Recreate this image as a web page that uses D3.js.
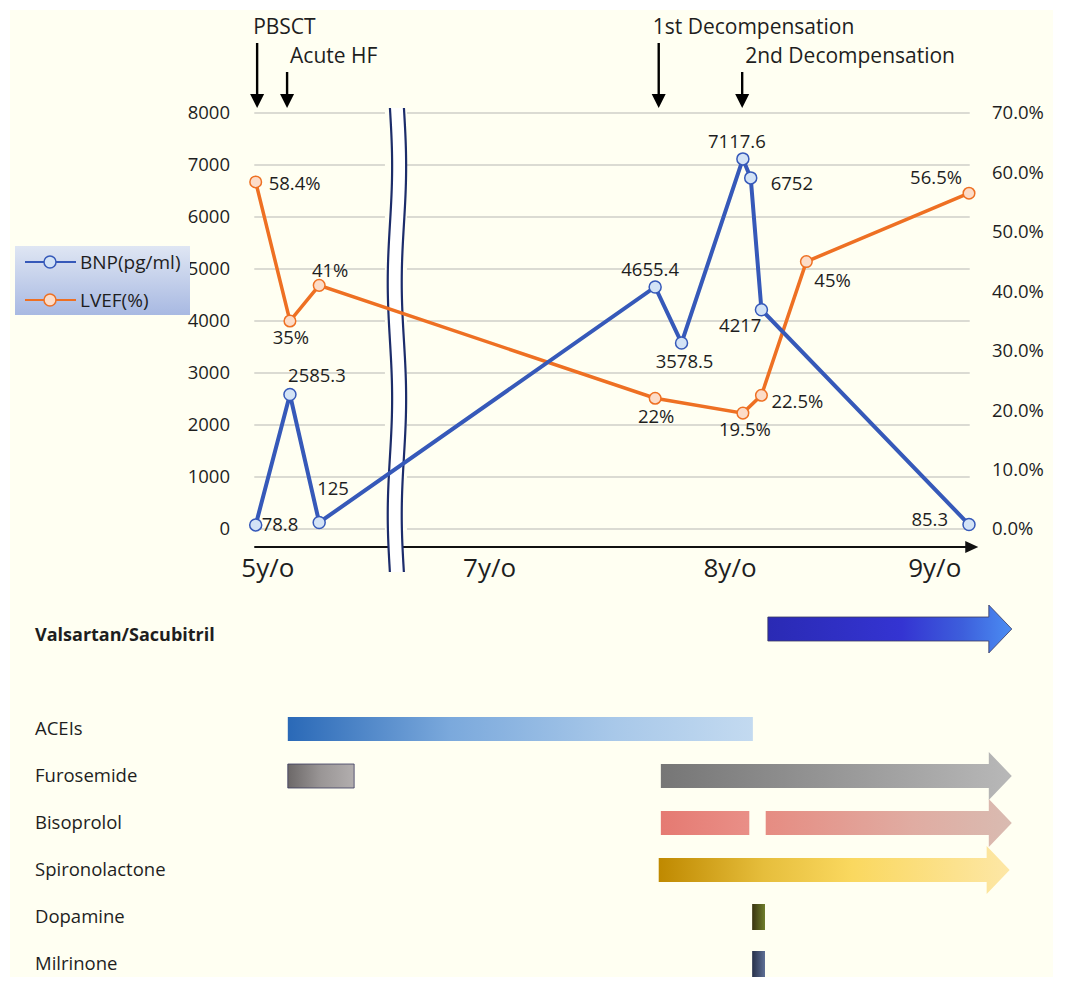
<!DOCTYPE html>
<html>
<head>
<meta charset="utf-8">
<title>BNP and LVEF follow-up</title>
<style>
  body { margin: 0; padding: 0; background: #fff; }
  svg text { font-family: "Open Sans", sans-serif; fill: #1e1e1e; }
</style>
</head>
<body>
<div id="chart"></div>
<script src="https://d3js.org/d3.v7.min.js"></script>
<script>
// timeline position: 0 = PBSCT, 100 = last visit (axis is broken after the acute phase)
var bnpTime   = [0, 4.8, 8.9, 56.0, 59.7, 68.3, 69.4, 70.9, 100];
var bnpValues = [78.8, 2585.3, 125, 4655.4, 3578.5, 7117.6, 6752, 4217, 85.3];
var bnpLabels = ["78.8", "2585.3", "125", "4655.4", "3578.5", "7117.6", "6752", "4217", "85.3"];

var lvefTime   = [0, 4.8, 8.9, 56.0, 68.3, 70.9, 77.2, 100];
var lvefValues = [58.4, 35, 41, 22, 19.5, 22.5, 45, 56.5];
var lvefLabels = ["58.4%", "35%", "41%", "22%", "19.5%", "22.5%", "45%", "56.5%"];

var bnpTicks  = [0, 1000, 2000, 3000, 4000, 5000, 6000, 7000, 8000];
var lvefTicks = [0, 10, 20, 30, 40, 50, 60, 70];

var ageLabels = ["5y/o", "7y/o", "8y/o", "9y/o"];
var ageTime   = [1.7, 32.8, 66.5, 95.2];

var eventNames = ["PBSCT", "Acute HF", "1st Decompensation", "2nd Decompensation"];
var eventTime  = [0.2, 4.4, 56.5, 68.2];

var breakTime = 19.8;

var drugNames = ["Valsartan/Sacubitril", "", "ACEIs", "Furosemide", "Bisoprolol", "Spironolactone", "Dopamine", "Milrinone"];
// [drug, start, end, still ongoing]
var drugCourses = [
  ["Valsartan/Sacubitril", 71.8, 106, true],
  ["ACEIs", 4.5, 69.7, false],
  ["Furosemide", 4.5, 13.8, false],
  ["Furosemide", 56.8, 106, true],
  ["Bisoprolol", 56.8, 69.2, false],
  ["Bisoprolol", 71.5, 106, true],
  ["Spironolactone", 56.5, 105.7, true],
  ["Dopamine", 69.6, 71.4, false],
  ["Milrinone", 69.6, 71.4, false]
];

var width = 1084, height = 988;
var blue = "#3659b9", orange = "#ee7023";

var svg = d3.select("#chart").append("svg")
    .attr("width", width)
    .attr("height", height);

var defs = svg.append("defs");

svg.append("rect")
    .attr("x", 10).attr("y", 10)
    .attr("width", 1043).attr("height", 967)
    .attr("fill", "#fffff2");

var x = d3.scaleLinear().domain([0, 100]).range([255.7, 969]);
var yL = d3.scaleLinear().domain([0, 8000]).range([529, 113]);
var yR = d3.scaleLinear().domain([0, 70]).range([529, 113]);

var breakX = x(breakTime);

// gridlines, cut at the break
var grid = svg.append("g");
bnpTicks.forEach(function(t) {
  [[x(-0.2), breakX - 12], [breakX + 10, x(100.1)]].forEach(function(seg) {
    grid.append("line")
        .attr("x1", seg[0]).attr("x2", seg[1])
        .attr("y1", yL(t)).attr("y2", yL(t))
        .attr("stroke", "#cfcfc8")
        .attr("stroke-width", 1.3);
  });
});

// axes
var left = svg.append("g")
    .attr("transform", "translate(234,0)")
    .call(d3.axisLeft(yL).tickValues(bnpTicks).tickSize(0).tickPadding(4).tickFormat(d3.format("d")));
left.select(".domain").remove();
left.selectAll("text").style("font-size", "18.5px").attr("fill", "#333");

var right = svg.append("g")
    .attr("transform", "translate(988,0)")
    .call(d3.axisRight(yR).tickValues(lvefTicks).tickSize(0).tickPadding(4)
      .tickFormat(function(d) { return d.toFixed(1) + "%"; }));
right.select(".domain").remove();
right.selectAll("text").style("font-size", "18.5px").attr("fill", "#333");

// x axis with arrow
var axisY = 547;
svg.append("line")
    .attr("x1", x(-0.2)).attr("x2", x(100.4))
    .attr("y1", axisY).attr("y2", axisY)
    .attr("stroke", "#111").attr("stroke-width", 2);
svg.append("path")
    .attr("d", "M" + x(101.3) + "," + axisY + "l-13,-6l0,12z")
    .attr("fill", "#111");

svg.append("g").selectAll("text")
    .data(ageLabels)
    .join("text")
    .attr("x", function(d, i) { return x(ageTime[i]); })
    .attr("y", 577)
    .attr("text-anchor", "middle")
    .style("font-size", "26px")
    .attr("fill", "#111")
    .text(function(d) { return d; });

// axis break: two wavy lines with white between
var wave = d3.range(108, 574, 4);
function waveX(y, off) {
  return breakX + off + 2.2 * Math.sin((y - 108) / 465 * Math.PI * 4);
}
var bandPts = wave.map(function(y) { return [waveX(y, -7), y]; })
    .concat(wave.slice().reverse().map(function(y) { return [waveX(y, 7), y]; }));
svg.append("path")
    .attr("d", d3.line()(bandPts) + "Z")
    .attr("fill", "#fff");
[-7, 7].forEach(function(off) {
  svg.append("path")
      .attr("d", d3.line().curve(d3.curveBasis)(wave.map(function(y) { return [waveX(y, off), y]; })))
      .attr("fill", "none")
      .attr("stroke", "#1c2c6b")
      .attr("stroke-width", 2.2);
});

// series
var bnp = bnpTime.map(function(t, i) { return { t: t, v: bnpValues[i], label: bnpLabels[i] }; });
var lvef = lvefTime.map(function(t, i) { return { t: t, v: lvefValues[i], label: lvefLabels[i] }; });

svg.append("path")
    .datum(lvef)
    .attr("d", d3.line().x(function(d) { return x(d.t); }).y(function(d) { return yR(d.v); }))
    .attr("fill", "none").attr("stroke", orange).attr("stroke-width", 3.5);

svg.append("path")
    .datum(bnp)
    .attr("d", d3.line().x(function(d) { return x(d.t); }).y(function(d) { return yL(d.v); }))
    .attr("fill", "none").attr("stroke", blue).attr("stroke-width", 4);

svg.append("g").selectAll("circle")
    .data(lvef)
    .join("circle")
    .attr("cx", function(d) { return x(d.t); })
    .attr("cy", function(d) { return yR(d.v); })
    .attr("r", 5.8)
    .attr("fill", "#fcdcc8")
    .attr("stroke", orange).attr("stroke-width", 1.5);

svg.append("g").selectAll("circle")
    .data(bnp)
    .join("circle")
    .attr("cx", function(d) { return x(d.t); })
    .attr("cy", function(d) { return yL(d.v); })
    .attr("r", 6)
    .attr("fill", "#d3e3f6")
    .attr("stroke", blue).attr("stroke-width", 1.5);

// data labels: [dx, dy, anchor]
var bnpLabelPos = [[6, 6, "start"], [27, -13, "middle"], [-2, -28, "start"], [-5, -11, "middle"],
  [3, 25, "middle"], [-6, -11, "middle"], [20, 12, "start"], [0, 22, "end"], [-21, 1, "end"]];
var lvefLabelPos = [[13, 8, "start"], [1, 23, "middle"], [11, -8, "middle"], [1, 25, "middle"],
  [2, 23, "middle"], [10, 13, "start"], [8, 25, "start"], [-7, -9, "end"]];

svg.append("g").selectAll("text")
    .data(bnp)
    .join("text")
    .attr("x", function(d, i) { return x(d.t) + bnpLabelPos[i][0]; })
    .attr("y", function(d, i) { return yL(d.v) + bnpLabelPos[i][1]; })
    .attr("text-anchor", function(d, i) { return bnpLabelPos[i][2]; })
    .style("font-size", "18.5px")
    .text(function(d) { return d.label; });

svg.append("g").selectAll("text")
    .data(lvef)
    .join("text")
    .attr("x", function(d, i) { return x(d.t) + lvefLabelPos[i][0]; })
    .attr("y", function(d, i) { return yR(d.v) + lvefLabelPos[i][1]; })
    .attr("text-anchor", function(d, i) { return lvefLabelPos[i][2]; })
    .style("font-size", "18.5px")
    .text(function(d) { return d.label; });

// clinical events
var eventRowY = [34, 63];
var events = svg.append("g");
eventNames.forEach(function(name, i) {
  var ex = x(eventTime[i]);
  var row = eventRowY[i % 2];
  events.append("text")
      .attr("x", ex - (i == 0 ? 4 : (i == 2 ? 6 : -3)))
      .attr("y", row)
      .style("font-size", "21px")
      .attr("fill", "#000")
      .text(name);
  events.append("line")
      .attr("x1", ex).attr("x2", ex)
      .attr("y1", row + 9).attr("y2", 96)
      .attr("stroke", "#000").attr("stroke-width", 2.4);
  events.append("path")
      .attr("d", "M" + (ex - 7) + ",94L" + (ex + 7) + ",94L" + ex + ",108Z")
      .attr("fill", "#000");
});

// legend
var lg = defs.append("linearGradient").attr("id", "legendBg")
    .attr("x1", 0).attr("y1", 0).attr("x2", 0).attr("y2", 1);
lg.append("stop").attr("offset", 0).attr("stop-color", "#dfe6f3");
lg.append("stop").attr("offset", 1).attr("stop-color", "#a8b9e2");

var legend = svg.append("g");
legend.append("rect")
    .attr("x", 15).attr("y", 246)
    .attr("width", 175).attr("height", 69)
    .attr("fill", "url(#legendBg)");
[["BNP(pg/ml)", blue, "#d3e3f6", 262], ["LVEF(%)", orange, "#fcdcc8", 300]].forEach(function(e) {
  legend.append("line")
      .attr("x1", 25).attr("x2", 76)
      .attr("y1", e[3]).attr("y2", e[3])
      .attr("stroke", e[1]).attr("stroke-width", 2);
  legend.append("circle")
      .attr("cx", 50).attr("cy", e[3]).attr("r", 6)
      .attr("fill", e[2]).attr("stroke", e[1]).attr("stroke-width", 1.5);
  legend.append("text")
      .attr("x", 80).attr("y", e[3] + 7)
      .style("font-size", "19px")
      .attr("fill", "#333")
      .text(e[0]);
});

// medications
var rowY = d3.scalePoint().domain(drugNames).range([635, 964]);

svg.append("g").selectAll("text")
    .data(drugNames.filter(function(d) { return d != ""; }))
    .join("text")
    .attr("x", 35)
    .attr("y", function(d) { return rowY(d) + 6; })
    .style("font-size", function(d, i) { return i == 0 ? "18px" : "18.5px"; })
    .style("font-weight", function(d, i) { return i == 0 ? "bold" : "normal"; })
    .attr("fill", "#000")
    .text(function(d) { return d; });

var courseColors = [
  [[0, "#2a2ab4"], [0.55, "#3434d2"], [0.8, "#3d5fdc"], [1, "#4b8df2"]],
  [[0, "#2a69b7"], [0.35, "#7ba9dc"], [0.7, "#a8c8e9"], [1, "#c3daf0"]],
  [[0, "#6c6868"], [0.5, "#9a9696"], [1, "#b2aeae"]],
  [[0, "#767676"], [1, "#b8b8b8"]],
  [[0, "#e57a72"], [1, "#e98f87"]],
  [[0, "#e68c82"], [0.6, "#e0aca2"], [1, "#d9bbb1"]],
  [[0, "#bf8900"], [0.3, "#e6be3c"], [0.55, "#fad85f"], [1, "#fde7a6"]],
  [[0, "#393310"], [1, "#6f7e2c"]],
  [[0, "#27314a"], [1, "#5e6f95"]]
];

var courseG = svg.append("g");
drugCourses.forEach(function(c, i) {
  var gid = "course" + i;
  var grad = defs.append("linearGradient").attr("id", gid)
      .attr("x1", 0).attr("y1", 0).attr("x2", 1).attr("y2", 0);
  courseColors[i].forEach(function(s) {
    grad.append("stop").attr("offset", s[0]).attr("stop-color", s[1]);
  });
  var x0 = x(c[1]), x1 = x(c[2]);
  var cy = rowY(c[0]) + (i == 0 ? -6 : 0);
  var h = (i == 7 || i == 8) ? 26 : 24;
  var d;
  if (c[3]) {
    var hx = x1 - 23;
    d = "M" + x0 + "," + (cy - h / 2) + "L" + hx + "," + (cy - h / 2) + "L" + hx + "," + (cy - 24) +
        "L" + x1 + "," + cy + "L" + hx + "," + (cy + 24) + "L" + hx + "," + (cy + h / 2) +
        "L" + x0 + "," + (cy + h / 2) + "Z";
  } else {
    d = "M" + x0 + "," + (cy - h / 2) + "H" + x1 + "V" + (cy + h / 2) + "H" + x0 + "Z";
  }
  courseG.append("path")
      .attr("d", d)
      .attr("fill", "url(#" + gid + ")")
      .attr("stroke", (i == 0 || i == 2) ? "#3a3a60" : "none")
      .attr("stroke-width", 0.8);
});
</script>
</body>
</html>
